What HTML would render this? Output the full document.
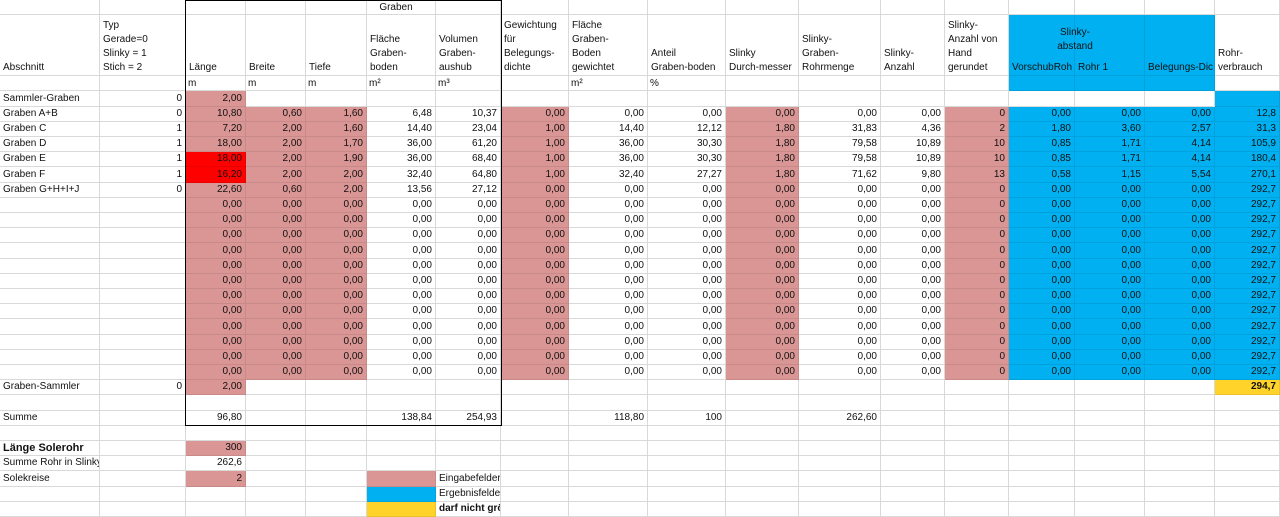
<!DOCTYPE html>
<html><head><meta charset="utf-8">
<style>
body{margin:0;width:1280px;height:515px;overflow:hidden;background:#fff;font-family:"Liberation Sans",sans-serif;font-size:10px;color:#111;position:relative}
.c{position:absolute;box-sizing:border-box;border-right:1px solid #d9d9d9;border-bottom:1px solid #d9d9d9;white-space:nowrap;overflow:hidden;padding:0 3px;line-height:14px}
.r{text-align:right}
.h{position:absolute;white-space:nowrap;line-height:14px;font-size:10px}
</style></head><body>
<div id="sheet"></div>
<script>
const X=[0,100,186,246,306,367,436,501,569,648,726,799,881,945,1009,1075,1145,1215,1280];
const names=["Sammler-Graben","Graben A+B","Graben C","Graben D","Graben E","Graben F","Graben G+H+I+J"];
const typ=["0","0","1","1","1","1","0"];
const rowsData=[
["","2,00","","","","","","","","","","","","","","","","2,0"],
["","10,80","0,60","1,60","6,48","10,37","0,00","0,00","0,00","0,00","0,00","0,00","0","0,00","0,00","0,00","12,8"],
["","7,20","2,00","1,60","14,40","23,04","1,00","14,40","12,12","1,80","31,83","4,36","2","1,80","3,60","2,57","31,3"],
["","18,00","2,00","1,70","36,00","61,20","1,00","36,00","30,30","1,80","79,58","10,89","10","0,85","1,71","4,14","105,9"],
["","18,00","2,00","1,90","36,00","68,40","1,00","36,00","30,30","1,80","79,58","10,89","10","0,85","1,71","4,14","180,4"],
["","16,20","2,00","2,00","32,40","64,80","1,00","32,40","27,27","1,80","71,62","9,80","13","0,58","1,15","5,54","270,1"],
["","22,60","0,60","2,00","13,56","27,12","0,00","0,00","0,00","0,00","0,00","0,00","0","0,00","0,00","0,00","292,7"]];
const zeroRow=["","0,00","0,00","0,00","0,00","0,00","0,00","0,00","0,00","0,00","0,00","0,00","0","0,00","0,00","0,00","292,7"];
const PINK="#da9694",BLUE="#00b0f0",RED="#ff0000",YEL="#ffd32a";
const S=document.getElementById('sheet');
function rt(r){return Math.round(91.4+r*15.2);}
function cell(top,h,c,txt,o){
 o=o||{};
 const d=document.createElement('div');
 d.className='c'+(o.right?' r':'');
 d.style.left=X[c]+'px';d.style.top=top+'px';
 d.style.width=(X[c+1]-X[c])+'px';d.style.height=h+'px';
 d.style.lineHeight=(h-1)+'px';
 if(o.bg){d.style.background=o.bg;d.style.borderColor='rgba(0,0,0,0.08)';}
 if(o.bold){d.style.fontWeight='bold';}
 if(o.fs){d.style.fontSize=o.fs;}
 d.textContent=txt;
 
 
 S.appendChild(d);return d;
}
// header row 0
for(let c=0;c<18;c++)cell(0,15,c,"",{name:'header-blank'});
// header row 1 and units
for(let c=0;c<18;c++){cell(15,61,c,"",{bg:(c>=14&&c<=16)?BLUE:null,name:'header-cell'});cell(76,15,c,"",{bg:(c>=14&&c<=16)?BLUE:null,name:'unit-cell'});}
const H=[[0,["Abschnitt"]],[1,["Typ","Gerade=0","Slinky  = 1","Stich   = 2"]],[2,["Länge"]],[3,["Breite"]],[4,["Tiefe"]],[5,["Fläche","Graben-","boden"]],[6,["Volumen","Graben-","aushub"]],[7,["Gewichtung","für","Belegungs-","dichte"]],[8,["Fläche","Graben-","Boden","gewichtet"]],[9,["Anteil","Graben-boden"]],[10,["Slinky","Durch-messer"]],[11,["Slinky-","Graben-","Rohrmenge"]],[12,["Slinky-","Anzahl"]],[13,["Slinky-","Anzahl von","Hand","gerundet"]],[14,["VorschubRoh"]],[15,["Rohr 1"]],[16,["Belegungs-Dic"]],[17,["Rohr-","verbrauch"]]];
H.forEach(([c,lines])=>{
 const d=document.createElement('div');d.className='h';
 d.style.left=(X[c]+3)+'px';d.style.top=(76-lines.length*14-1)+'px';
 d.innerHTML=lines.join('<br>');
 
 
 S.appendChild(d);
});
[["Graben",396,1],["Slinky-",1075,26],["abstand",1075,40]].forEach(([t,x,y])=>{
 const d=document.createElement('div');d.className='h';d.style.left=(x-30)+'px';d.style.width='60px';d.style.textAlign='center';d.style.top=y+'px';d.textContent=t;
 
 
 S.appendChild(d);
});
const units={2:"m",3:"m",4:"m",5:"m²",6:"m³",8:"m²",9:"%"};
for(const k in units){const d=document.createElement('div');d.className='h';d.style.left=(X[k]+2)+'px';d.style.top='77px';d.textContent=units[k];
 
 
 S.appendChild(d);}
// data rows
const pinkCols=[1,2,3,6,9,12];
for(let r=0;r<28;r++){
 const top=rt(r),h=rt(r+1)-top;
 let vals;
 if(r<7)vals=rowsData[r];else if(r<19)vals=zeroRow;else vals=Array(17).fill("");
 for(let c=0;c<18;c++){
  let txt=c===0?(r<7?names[r]:""):(vals[c-1]||"");
  if(c===1&&r<7)txt=typ[r];
  let bg=null;
  if(c===2&&r<=19)bg=PINK;
  if([3,4,7,10,13].includes(c)&&r>=1&&r<=18)bg=PINK;
  if(c>=14&&c<=16&&r>=1&&r<=18)bg=BLUE;
  if(c===17&&r<=18)bg=BLUE;
  if(c===2&&(r===4||r===5))bg=RED;
  cell(top,h,c,txt,{right:c>0,bg:bg,name:c===0?'row-label':'data-cell'});
 }
}
function put(r,c,t,o){o=o||{};const top=rt(r);const d=cell(top,rt(r+1)-top,c,t,o);return d;}
put(19,0,"Graben-Sammler",{name:'row-label'});put(19,1,"0",{right:1});put(19,2,"2,00",{right:1,bg:PINK});put(19,17,"294,7",{right:1,bg:YEL,bold:1,name:'total-pipe'});
put(21,0,"Summe",{name:'sum-label'});put(21,2,"96,80",{right:1});put(21,5,"138,84",{right:1});put(21,6,"254,93",{right:1});put(21,8,"118,80",{right:1});put(21,9,"100",{right:1});put(21,11,"262,60",{right:1});
put(23,0,"Länge Solerohr",{bold:1,fs:'11px',name:'pipe-length-label'});put(23,2,"300",{right:1,bg:PINK,name:'pipe-length-input'});
put(24,0,"Summe Rohr in SlinkyGraben",{name:'sum-pipe-label'});put(24,2,"262,6",{right:1});
put(25,0,"Solekreise",{name:'circuits-label'});put(25,2,"2",{right:1,bg:PINK,name:'circuits-input'});
put(25,5,"",{bg:PINK,name:'legend-input-swatch'});put(25,6,"Eingabefelder",{name:'legend-input'});
put(26,5,"",{bg:BLUE,name:'legend-result-swatch'});put(26,6,"Ergebnisfelder",{name:'legend-result'});
put(27,5,"",{bg:YEL,name:'legend-warning-swatch'});put(27,6,"darf nicht größer als Länge Solerohr sein",{bold:1,name:'legend-warning'});
// black box
const b=document.createElement('div');


b.style.cssText='position:absolute;left:185px;top:0;width:317px;height:'+(rt(22))+'px;border:1px solid #000;border-top-width:1px;box-sizing:border-box;pointer-events:none';
S.appendChild(b);
</script>
</body></html>
